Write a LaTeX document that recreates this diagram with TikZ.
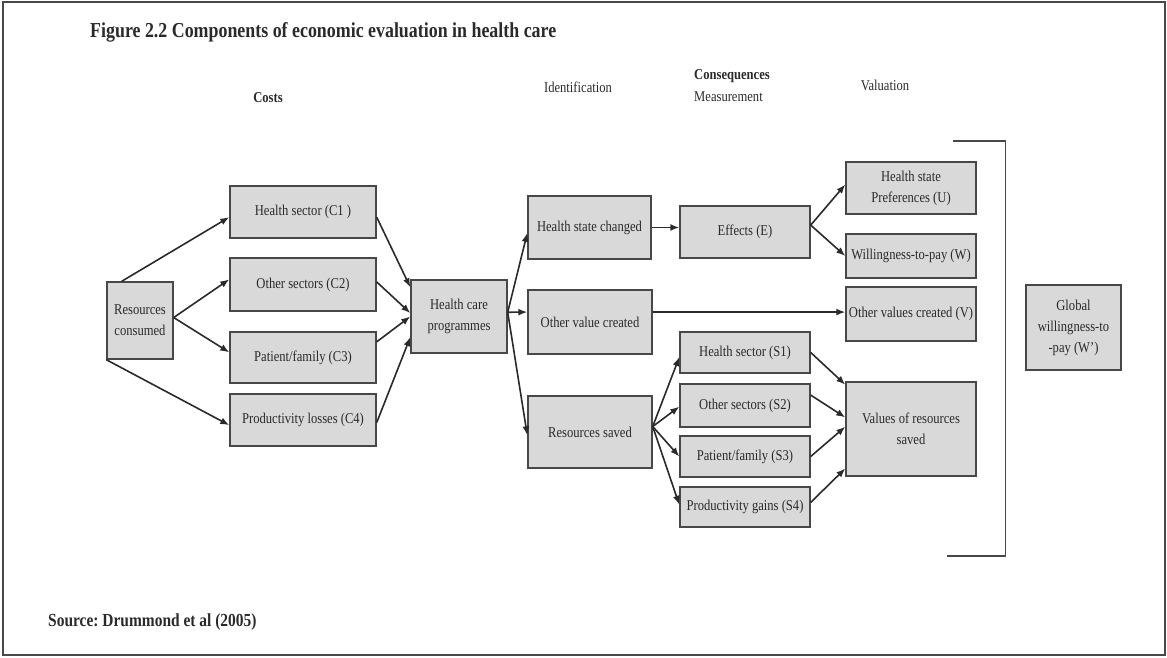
\documentclass[tikz,border=0pt]{standalone}
\usepackage{fontspec}
\setmainfont{Liberation Serif}[FakeStretch=0.84]
\usepackage{tikz}
\usetikzlibrary{arrows.meta}
\frenchspacing
\definecolor{ink}{HTML}{2A2A2A}
\definecolor{boxfill}{HTML}{D9D9D9}
\definecolor{boxline}{HTML}{484848}
\tikzset{b/.style={draw=boxline,line width=1.4pt,fill=boxfill,text=ink,inner sep=0pt,align=center,font=\fontsize{15}{21}\selectfont}}
\tikzset{h/.style={text=ink,inner sep=0pt,font=\fontsize{15}{17}\selectfont}}
\tikzset{a/.style={draw=ink,line width=1.6pt,-{Latex[length=9pt,width=7pt]}}}

\begin{document}
\begin{tikzpicture}[x=1pt,y=-1pt]
  \useasboundingbox (0,0) rectangle (1167,658);
  \draw[boxline,line width=1.5pt] (3,2) rectangle (1165,655);
  % headings
  \node[h,anchor=west,font=\bfseries\fontsize{21.3}{23}\selectfont] (T) at (90,32) {Figure 2.2 Components of economic evaluation in health care};
  \node[h,font=\bfseries\fontsize{15}{17}\selectfont] (HC) at (268,98) {Costs};
  \node[h] (HI) at (578,87) {Identification};
  \node[h,anchor=west,font=\bfseries\fontsize{15}{17}\selectfont] (HQ) at (694,76) {Consequences};
  \node[h,anchor=west] (HM) at (694,97) {Measurement};
  \node[h] (HV) at (885,85) {Valuation};
  \node[h,anchor=west,font=\bfseries\fontsize{18.4}{20}\selectfont] (SRC) at (48,622) {Source: Drummond et al (2005)};
  % costs
  \node[b,minimum width=66pt,minimum height=77pt] (RC) at (140,320.5) {Resources\\consumed};
  \node[b,minimum width=146pt,minimum height=52pt] (C1) at (303,212) {Health sector (C1 )};
  \node[b,minimum width=146pt,minimum height=53pt] (C2) at (303,284.5) {Other sectors (C2)};
  \node[b,minimum width=146pt,minimum height=51pt] (C3) at (303,357.5) {Patient/family (C3)};
  \node[b,minimum width=146pt,minimum height=52pt] (C4) at (303,420) {Productivity losses (C4)};
  \node[b,minimum width=96pt,minimum height=73pt] (HCP) at (459,316.5) {Health care\\programmes};
  % identification
  \node[b,minimum width=123pt,minimum height=63pt] (HSC) at (589.5,227.5) {Health state changed};
  \node[b,minimum width=124pt,minimum height=64pt] (OVC) at (590,322) {Other value created};
  \node[b,minimum width=124pt,minimum height=72pt] (RS) at (590,432) {Resources saved};
  % measurement
  \node[b,minimum width=130pt,minimum height=52pt] (E) at (745,232) {Effects (E)};
  \node[b,minimum width=130pt,minimum height=41pt] (S1) at (745,352.5) {Health sector (S1)};
  \node[b,minimum width=130pt,minimum height=43pt] (S2) at (745,405.5) {Other sectors (S2)};
  \node[b,minimum width=130pt,minimum height=41pt] (S3) at (745,456.5) {Patient/family (S3)};
  \node[b,minimum width=130pt,minimum height=40pt] (S4) at (745,507) {Productivity gains (S4)};
  % valuation
  \node[b,minimum width=130pt,minimum height=52pt] (U) at (911,188) {Health state\\Preferences (U)};
  \node[b,minimum width=130pt,minimum height=44pt] (W) at (911,256) {Willingness-to-pay (W)};
  \node[b,minimum width=130pt,minimum height=54pt] (V) at (911,314) {Other values created (V)};
  \node[b,minimum width=130pt,minimum height=94pt] (VRS) at (911,429) {Values of resources\\saved};
  \node[b,minimum width=95pt,minimum height=85pt] (GW) at (1073.5,327.5) {Global\\willingness-to\\-pay (W’)};
  % bracket
  \draw[boxline,line width=1.4pt] (953,141) -- (1005.5,141) -- (1005.5,556) -- (947,556);
  % connectors
  \draw[a] (RC.115) -- (C1.184);
  \draw[a] (RC.5) -- (C2.176);
  \draw[a] (RC.5) -- (C3.176);
  \draw[a] (RC.south west) -- (C4.184);
  \draw[a] (C1.-4) -- (HCP.149);
  \draw[a] (C2.2) -- (HCP.176);
  \draw[a] (C3.12) -- (HCP.180);
  \draw[a] (C4.-2) -- (HCP.203);
  \draw[a] (HCP.5) -- (HSC.185);
  \draw[a] (HCP.5) -- (OVC.171);
  \draw[a] (HCP.5) -- (RS.183);
  \draw[a] (HSC.east) -- (HSC.east -| E.west);
  \draw[a] (OVC.9) -- (OVC.9 -| V.west);
  \draw[a] (E.6) -- (U.177);
  \draw[a] (E.6) -- (W.west);
  \draw[a] (RS.5) -- (S1.184);
  \draw[a] (RS.5) -- (S2.181);
  \draw[a] (RS.5) -- (S3.west);
  \draw[a] (RS.5) -- (S4.178);
  \draw[a] (S1.east) -- (VRS.146);
  \draw[a] (S2.9) -- (VRS.170);
  \draw[a] (S3.east) -- (VRS.178);
  \draw[a] (S4.4) -- (VRS.211);
\end{tikzpicture}
\end{document}
